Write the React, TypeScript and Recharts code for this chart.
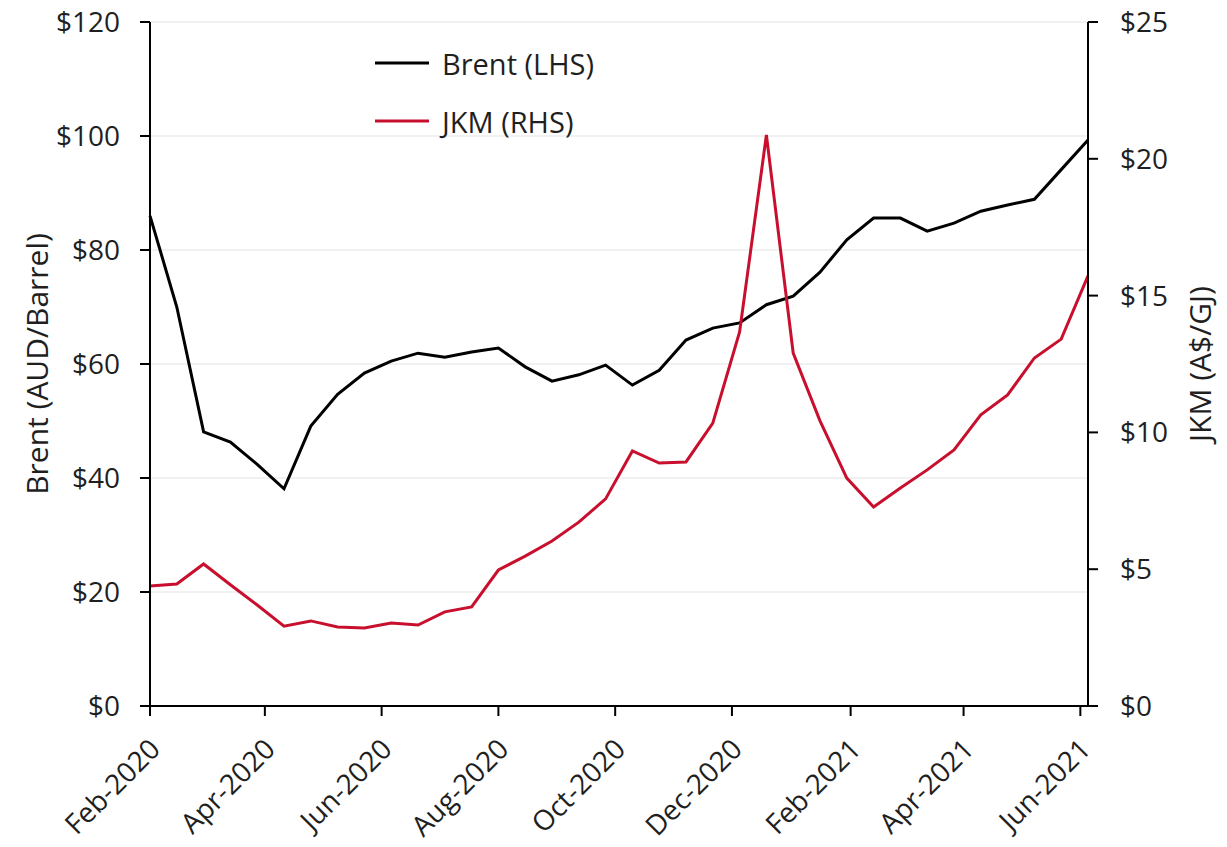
import React from 'react'
import { CartesianGrid, Label, Legend, Line, LineChart, XAxis, YAxis } from 'recharts'

// fortnightly observations
const dates = [
  '2020-02-01', '2020-02-15', '2020-02-29', '2020-03-14', '2020-03-28', '2020-04-11',
  '2020-04-25', '2020-05-09', '2020-05-23', '2020-06-06', '2020-06-20', '2020-07-04',
  '2020-07-18', '2020-08-01', '2020-08-15', '2020-08-29', '2020-09-12', '2020-09-26',
  '2020-10-10', '2020-10-24', '2020-11-07', '2020-11-21', '2020-12-05', '2020-12-19',
  '2021-01-02', '2021-01-16', '2021-01-30', '2021-02-13', '2021-02-27', '2021-03-13',
  '2021-03-27', '2021-04-10', '2021-04-24', '2021-05-08', '2021-05-22', '2021-06-05',
]

const brent = [
  86.0, 70.0, 48.1, 46.3, 42.4, 38.1, 49.1, 54.7, 58.4, 60.5, 61.9, 61.2,
  62.1, 62.8, 59.5, 57.0, 58.1, 59.8, 56.3, 58.9, 64.2, 66.3, 67.2, 70.4,
  71.9, 76.1, 81.8, 85.6, 85.6, 83.3, 84.7, 86.8, 87.9, 88.9, 94.1, 99.3,
]

const jkm = [
  4.39, 4.46, 5.19, 4.43, 3.69, 2.92, 3.11, 2.89, 2.85, 3.03, 2.96, 3.44,
  3.62, 4.97, 5.48, 6.03, 6.72, 7.57, 9.32, 8.88, 8.92, 10.34, 13.67, 20.87,
  12.90, 10.42, 8.33, 7.27, 7.97, 8.63, 9.36, 10.64, 11.37, 12.72, 13.41, 15.72,
]

const tickDates = [
  '2020-02-01', '2020-04-01', '2020-06-01', '2020-08-01', '2020-10-01',
  '2020-12-01', '2021-02-01', '2021-04-01', '2021-06-01',
]
const monthNames = ['Jan', 'Feb', 'Mar', 'Apr', 'May', 'Jun', 'Jul', 'Aug', 'Sep', 'Oct', 'Nov', 'Dec']

const leftTicks = [0, 20, 40, 60, 80, 100, 120]
const rightTicks = [0, 5, 10, 15, 20, 25]

const BLACK = '#000000'
const RED = '#C8102E'
const TEXT = '#1f1f1f'
const TICK_FONT = 28
const TITLE_FONT = 30

const DAY = 86400000
const start = Date.parse(dates[0])
const toDay = (d: string) => Math.round((Date.parse(d) - start) / DAY)
const lastDay = toDay(dates[dates.length - 1])

const data = dates.map((d, i) => ({ day: toDay(d), brent: brent[i], jkm: jkm[i] }))
const xTicks = tickDates.map(toDay)

const fmtDay = (v: number) => {
  const d = new Date(start + v * DAY)
  return `${monthNames[d.getUTCMonth()]}-${d.getUTCFullYear()}`
}

const DateTick = (props: any) => {
  const { x, y, payload } = props
  const ax = x + 5
  const ay = y + 26
  return (
    <text x={ax} y={ay} dy="0.35em" textAnchor="end" fill={TEXT} fontSize={TICK_FONT}
      transform={`rotate(-45, ${ax}, ${ay})`}>
      {fmtDay(payload.value)}
    </text>
  )
}

const legendItems = [
  { name: 'Brent (LHS)', color: BLACK },
  { name: 'JKM (RHS)', color: RED },
]

const renderLegend = () => (
  <div>
    {legendItems.map((it) => (
      <div key={it.name} style={{ display: 'flex', alignItems: 'center', height: 58 }}>
        <svg width={54} height={4} style={{ display: 'block' }}>
          <line x1={0} y1={2} x2={54} y2={2} stroke={it.color} strokeWidth={3} />
        </svg>
        <span style={{ marginLeft: 13, fontSize: 29, color: TEXT, whiteSpace: 'nowrap' }}>{it.name}</span>
      </div>
    ))}
  </div>
)

export default function App() {
  return (
    <div style={{ fontFamily: "'Open Sans', sans-serif", margin: -8 }}>
      <LineChart width={1227} height={847} data={data}
        margin={{ top: 22, right: 59, bottom: 41, left: 70 }}>
        <CartesianGrid yAxisId="left" vertical={false} stroke="#ececec" strokeWidth={1.5} />
        <XAxis dataKey="day" type="number" domain={[0, lastDay]} ticks={xTicks}
          height={100} tickSize={10} tick={<DateTick />} interval={0}
          axisLine={{ stroke: BLACK, strokeWidth: 2 }} tickLine={{ stroke: BLACK, strokeWidth: 2 }} />
        <YAxis yAxisId="left" orientation="left" width={80} domain={[0, 120]} ticks={leftTicks}
          tickFormatter={(v) => `$${v}`} tickSize={10} tickMargin={20} interval={0}
          tick={{ fill: TEXT, fontSize: TICK_FONT }}
          axisLine={{ stroke: BLACK, strokeWidth: 2 }} tickLine={{ stroke: BLACK, strokeWidth: 2 }}>
          <Label value="Brent (AUD/Barrel)" angle={-90} position="center" dx={-73}
            style={{ fill: TEXT, fontSize: TITLE_FONT, textAnchor: 'middle' }} />
        </YAxis>
        <YAxis yAxisId="right" orientation="right" width={80} domain={[0, 25]} ticks={rightTicks}
          tickFormatter={(v) => `$${v}`} tickSize={10} tickMargin={22} interval={0}
          tick={{ fill: TEXT, fontSize: TICK_FONT }}
          axisLine={{ stroke: BLACK, strokeWidth: 2 }} tickLine={{ stroke: BLACK, strokeWidth: 2 }}>
          <Label value="JKM (A$/GJ)" angle={-90} position="center" dx={72}
            style={{ fill: TEXT, fontSize: TITLE_FONT, textAnchor: 'middle' }} />
        </YAxis>
        <Legend content={renderLegend} layout="horizontal" verticalAlign="middle" align="center"
          wrapperStyle={{ left: 375, top: 34, width: 'auto' }} />
        <Line yAxisId="left" type="linear" dataKey="brent" name="Brent (LHS)" stroke={BLACK}
          strokeWidth={3} dot={false} isAnimationActive={false} />
        <Line yAxisId="right" type="linear" dataKey="jkm" name="JKM (RHS)" stroke={RED}
          strokeWidth={3} dot={false} isAnimationActive={false} />
      </LineChart>
    </div>
  )
}
